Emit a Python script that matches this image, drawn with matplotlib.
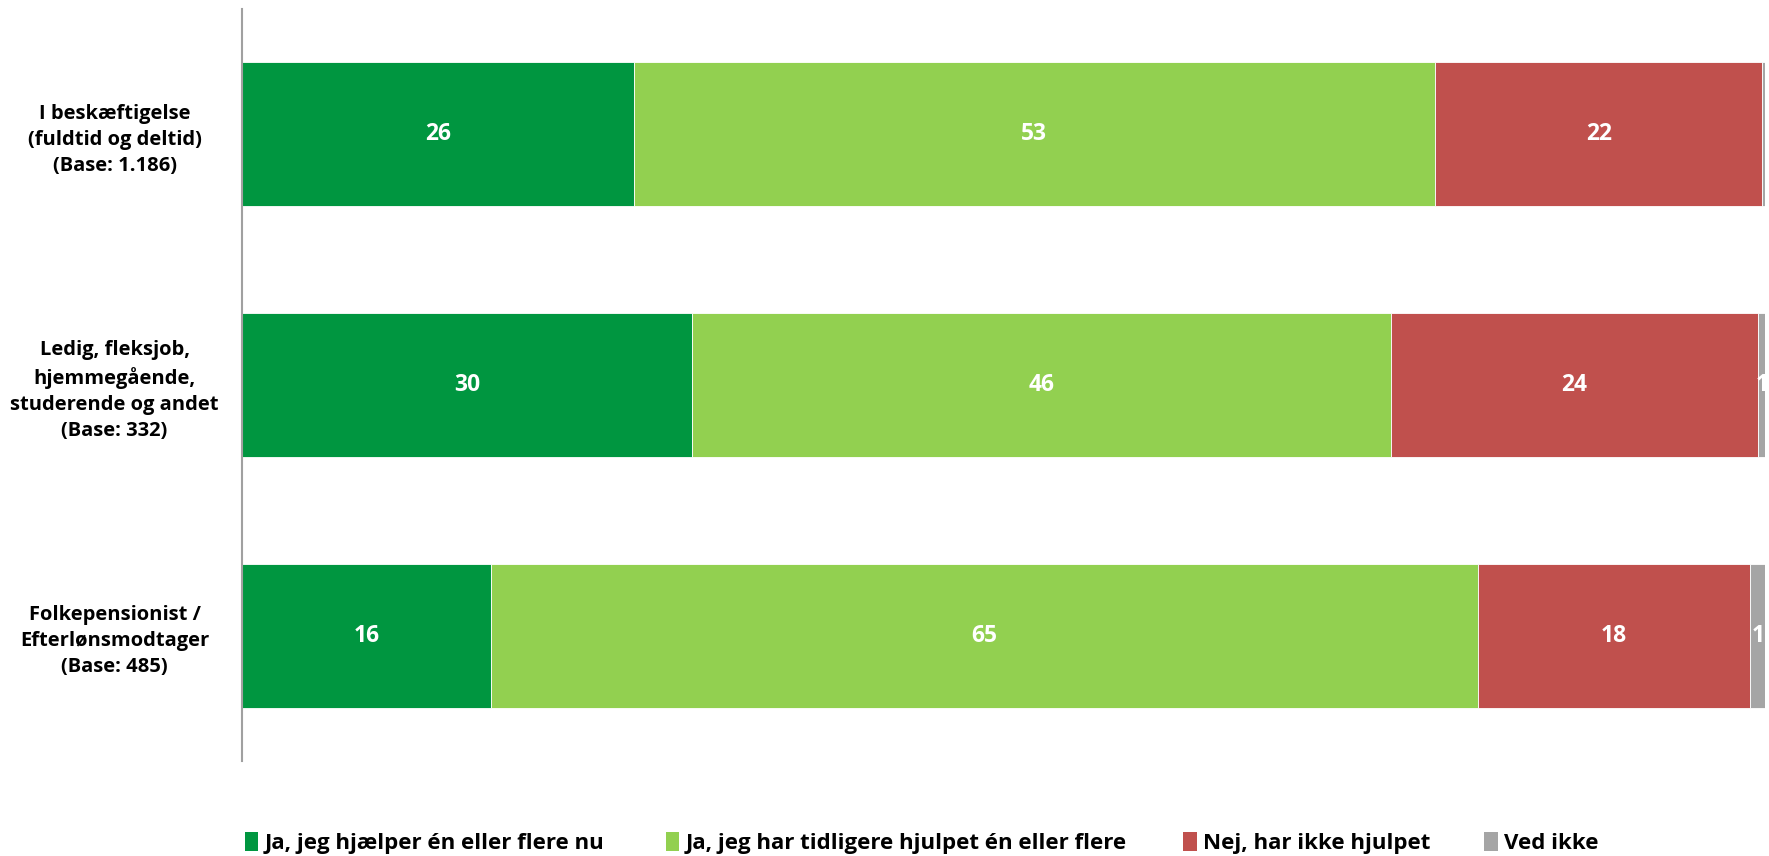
import matplotlib
matplotlib.use("Agg")
import matplotlib.pyplot as plt
from matplotlib.patches import Patch

categories = ["I beskæftigelse\n(fuldtid og deltid)\n(Base: 1.186)",
              "Ledig, fleksjob,\nhjemmegående,\nstuderende og andet\n(Base: 332)",
              "Folkepensionist /\nEfterlønsmodtager\n(Base: 485)"]
series = ["Ja, jeg hjælper én eller flere nu",
          "Ja, jeg har tidligere hjulpet én eller flere",
          "Nej, har ikke hjulpet",
          "Ved ikke"]
values = [
    [25.7, 29.5, 16.3],
    [52.6, 45.9, 64.8],
    [21.5, 24.1, 17.9],
    [0.3, 0.6, 1.0],
]
labels = [
    ["26", "30", "16"],
    ["53", "46", "65"],
    ["22", "24", "18"],
    ["", "1", "1"],
]
colors = ["#009640", "#92D050", "#C0504D", "#A5A5A5"]

plt.rcParams['font.family'] = ['Open Sans', 'DejaVu Sans']
fig = plt.figure(figsize=(17.69, 8.56), dpi=100)
ax = fig.add_axes([0.137, 0.111, 0.861, 0.8785])

ypos = list(range(len(categories)))
left = [0.0] * len(categories)
for s, (vals, labs, col) in enumerate(zip(values, labels, colors)):
    ax.barh(ypos, vals, left=left, height=0.575, color=col,
            edgecolor="white", linewidth=0.6, label=series[s])
    for i, (v, lab) in enumerate(zip(vals, labs)):
        if lab:
            ax.text(left[i] + v / 2, ypos[i], lab, ha="center", va="center",
                    color="white", fontsize=16.5, fontweight="bold")
    left = [l + v for l, v in zip(left, vals)]

ax.set_xlim(0, 100)
ax.set_ylim(2.5, -0.5)
ax.set_yticks(ypos)
ax.set_yticklabels(categories, fontsize=14.5, fontweight="bold", ha="center",
                   linespacing=1.4)
ax.tick_params(axis="y", length=0, pad=92)
ax.set_xticks([])
for sp in ["top", "right", "bottom"]:
    ax.spines[sp].set_visible(False)
ax.spines["left"].set_color("#A0A0A0")
ax.spines["left"].set_linewidth(1.5)

legend_x = [0.1385, 0.3765, 0.669, 0.839]
for name, col, lx in zip(series, colors, legend_x):
    fig.legend([Patch(facecolor=col, edgecolor="none")], [name],
               loc="center left", bbox_to_anchor=(lx, 0.015),
               frameon=False, prop={"size": 16, "weight": "bold"},
               handlelength=0.6, handleheight=0.9, handletextpad=0.3,
               borderpad=0, borderaxespad=0)

fig.savefig("out.png", dpi=100)
